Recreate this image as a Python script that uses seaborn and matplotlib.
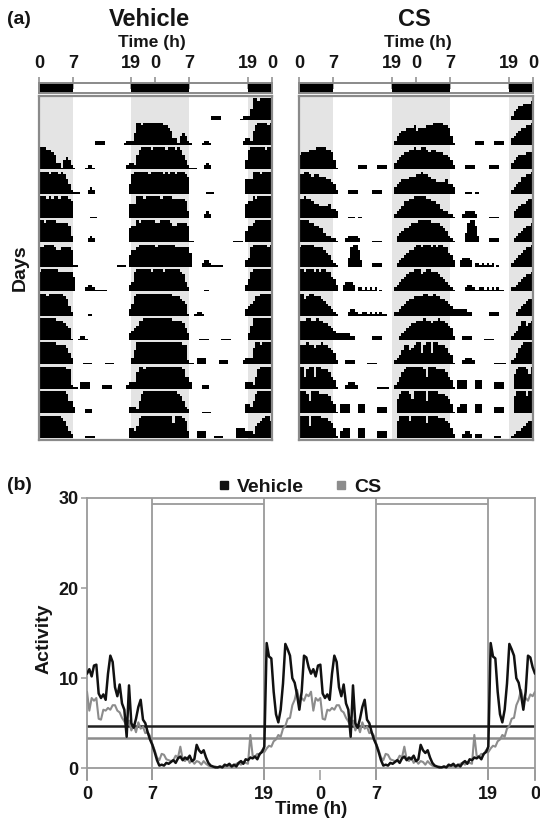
import numpy as np
import pandas as pd
import matplotlib
matplotlib.use("Agg")
import matplotlib.pyplot as plt
from matplotlib.lines import Line2D
import seaborn as sns

sns.set_theme(style="white")
plt.rcParams["font.family"] = ["Liberation Sans", "DejaVu Sans"]
plt.rcParams["font.weight"] = "bold"

# ---------------- data ----------------
tick_hours_a = [0, 7, 19, 24, 31, 43, 48]
tick_hours_b = [0, 7, 19, 25, 31, 43, 48]
tick_labels = ["0", "7", "19", "0", "7", "19", "0"]
dark_starts = [0, 19, 43]
dark_ends = [7, 31, 48]
light_starts = [7, 31]
light_ends = [19, 43]

# actogram: one string per day, 48 half-hour bins, activity level 0-9
vehicle_days = [
    "00000000 00000000 00000002 22200000 00012225 99899999",
    "99988763 31454210 00012210 00000000 00002332 68999989",
    "99998999 89864211 10002320 00000000 00000489 99999899",
    "99989899 89998700 00000111 00000000 00000666 99989999",
    "99899998 88887300 00002320 00000000 00000677 98999999",
    "88999987 78888711 00000000 00000000 11110577 89999999",
    "89999999 88888860 00023321 11110000 00000348 99999989",
    "99989999 99874200 00001100 00000000 00000358 99999999",
    "99999998 88765100 12210000 00000000 00000345 68899999",
    "99999998 88875300 00111100 00011110 00000036 99999999",
    "99999999 99988211 03333000 00222200 00002333 79989999",
    "99999999 99985530 00022200 00000000 00000333 25899999",
    "99999999 98753200 00011110 00000000 00000443 58999999",
    "99999996 99987300 03333000 11110000 04444333 25678997",
]
cs_days = [
    "00000000 00000000 00000000 00000000 00000002 45667778",
    "67778889 99988741 00000000 22220000 22220003 45677889",
    "88998788 77766542 00002222 00000022 22000003 45666777",
    "88988766 55556443 00001110 11000000 00000002 34577889",
    "99998877 66433221 00023333 20000011 11000000 34566788",
    "89999988 88765321 00004899 73000022 22000000 23456778",
    "99899989 89988653 00344430 22121212 01000002 34567889",
    "99789988 87654321 00002332 11221212 12110002 23456778",
    "88899889 88776543 33333220 00000022 22000000 02345677",
    "88898878 89887652 00022220 00001111 00000002 34688678",
    "99589959 98887541 00023332 00000000 11111002 35789999",
    "99985999 88887541 04444000 44400000 33330000 68999869",
    "99995999 98887641 03444000 44400000 33330000 79999799",
    "99996999 98887642 00023320 22200000 11100001 23345677",
]

# mean activity profile, 15-min bins over 24 h
profile_hours = np.arange(0, 24, 0.25)
vehicle_profile = [
    10.5, 11.0, 10.2, 11.4, 11.5, 8.3, 7.8, 8.2, 7.6, 10.5, 12.5, 11.8,
    9.0, 8.0, 9.3, 7.2, 6.5, 3.5, 9.2, 5.0, 4.5, 5.5, 6.8, 7.6,
    5.4, 5.0, 4.0, 3.2, 2.6, 1.8, 0.9, 0.3, 0.4, 0.3, 0.6, 0.5,
    0.7, 0.9, 0.6, 1.1, 1.3, 0.9, 1.2, 1.0, 1.4, 0.8, 1.0, 2.6,
    2.0, 1.7, 2.0, 1.2, 0.6, 0.3, 0.2, 0.1, 0.1, 0.2, 0.1, 0.4,
    0.3, 0.5, 0.2, 0.4, 0.2, 0.6, 0.8, 0.5, 1.0, 0.9, 1.2, 1.1,
    1.3, 1.0, 1.6, 1.8, 2.4, 13.9, 12.4, 12.2, 8.5, 6.0, 5.1, 6.5,
    9.4, 13.8, 13.2, 12.5, 10.0, 9.5, 8.2, 6.5, 8.5, 12.5, 12.3, 11.2,
]
cs_profile = [
    8.5, 6.4, 7.8, 7.5, 7.8, 5.5, 5.4, 6.5, 6.4, 6.7, 6.5, 7.0,
    7.0, 6.4, 6.2, 5.6, 5.2, 4.6, 5.3, 4.2, 4.8, 4.0, 5.1, 4.4,
    4.6, 3.9, 4.0, 3.6, 2.7, 2.0, 1.2, 0.9, 1.6, 1.5, 1.0, 0.9,
    0.8, 0.9, 1.4, 1.2, 2.4, 1.0, 0.8, 1.2, 0.6, 0.9, 0.5, 0.8,
    0.7, 0.4, 0.8, 0.5, 0.3, 0.2, 0.1, 0.2, 0.1, 0.2, 0.1, 0.2,
    0.2, 0.3, 0.1, 0.3, 0.5, 0.6, 0.4, 0.7, 0.6, 0.5, 3.7, 1.4,
    1.3, 1.6, 1.5, 2.0, 1.8, 2.2, 2.5, 2.4, 3.0, 3.2, 3.7, 3.5,
    4.4, 4.7, 5.5, 5.6, 7.0, 7.6, 8.7, 7.6, 7.8, 7.5, 8.2, 8.0,
]
vehicle_level = 4.7
cs_level = 3.4
series_names = ["Vehicle", "CS"]

# ---------------- layout ----------------
W, H = 540, 819
fig = plt.figure(figsize=(W / 100, H / 100), dpi=100)


def rect(x0, y0, x1, y1):
    return [x0 / W, 1 - y1 / H, (x1 - x0) / W, (y1 - y0) / H]


FRAME = "#8a8a8a"
SHADE = "#e4e4e4"
GRID = "#9a9a9a"
TXT = "#151515"


def day_levels(s):
    return np.array([int(c) for c in s.replace(" ", "")], dtype=float)


def draw_actogram(ax, days):
    n = len(days)
    ax.set_xlim(0, 48)
    ax.set_ylim(n + 0.1, 0)
    for s, e in zip(dark_starts, dark_ends):
        ax.axvspan(s, e, color=SHADE, lw=0, zorder=0)
    levels = [day_levels(d) for d in days]
    edges = np.arange(97) * 0.5
    for r in range(1, n + 1):
        left = levels[r - 2] if r >= 2 else np.zeros(48)
        right = levels[r - 1]
        lv = np.concatenate([left, right])
        h = np.where(lv > 0, 0.06 + (lv - 1) / 8.0 * 0.84, 0.0)
        h = np.append(h, h[-1])
        ax.fill_between(edges, r, r - h, step="post", color="black", lw=0, zorder=2)
    ax.set_xticks([])
    ax.set_yticks([])
    for sp in ax.spines.values():
        sp.set_color(FRAME)
        sp.set_linewidth(1.6)
        sp.set_visible(True)


def draw_ldbar(ax):
    ax.set_xlim(0, 48)
    ax.set_ylim(0, 1)
    ax.barh([0.5] * len(dark_starts), np.array(dark_ends) - np.array(dark_starts),
            left=dark_starts, height=1, color="black", lw=0)
    ax.set_yticks([])
    ax.xaxis.tick_top()
    ax.set_xticks(tick_hours_a)
    ax.set_xticklabels(tick_labels)
    ax.tick_params(axis="x", top=True, bottom=False, labeltop=True, labelbottom=False,
                   direction="inout", length=8, width=1.1, color=FRAME, pad=4,
                   labelsize=13, labelcolor=TXT)
    for lab in ax.get_xticklabels():
        lab.set_fontweight("bold")
    for sp in ax.spines.values():
        sp.set_color(FRAME)
        sp.set_linewidth(1.4)
        sp.set_visible(True)


ax_v = fig.add_axes(rect(39, 96, 272, 440))
ax_c = fig.add_axes(rect(299, 96, 533, 440))
draw_actogram(ax_v, vehicle_days)
draw_actogram(ax_c, cs_days)
ax_vb = fig.add_axes(rect(39, 83, 272, 93))
ax_cb = fig.add_axes(rect(299, 83, 533, 93))
draw_ldbar(ax_vb)
draw_ldbar(ax_cb)

fig.text(7 / W, 1 - 20 / H, "(a)", fontsize=14, fontweight="bold", ha="left", va="center", color=TXT)
fig.text(149 / W, 1 - 20 / H, "Vehicle", fontsize=17, fontweight="bold", ha="center", va="center", color=TXT)
fig.text(414 / W, 1 - 20 / H, "CS", fontsize=17, fontweight="bold", ha="center", va="center", color=TXT)
fig.text(152 / W, 1 - 43 / H, "Time (h)", fontsize=12.5, fontweight="bold", ha="center", va="center", color=TXT)
fig.text(418 / W, 1 - 43 / H, "Time (h)", fontsize=12.5, fontweight="bold", ha="center", va="center", color=TXT)
fig.text(20 / W, 1 - 268 / H, "Days", fontsize=14, fontweight="bold", ha="center", va="center",
         rotation=90, color=TXT)

# ---------------- panel (b) ----------------
ax_p = fig.add_axes(rect(87, 498, 535, 780))
hours48 = np.concatenate([profile_hours, profile_hours + 24, [48.0]])
veh = np.array(vehicle_profile)
cs = np.array(cs_profile)
df = pd.DataFrame({
    "hour": np.concatenate([hours48, hours48]),
    "activity": np.concatenate([np.concatenate([veh, veh, veh[:1]]),
                                np.concatenate([cs, cs, cs[:1]])]),
    "group": [series_names[0]] * len(hours48) + [series_names[1]] * len(hours48),
})
ax_p.set_xlim(0, 48)
ax_p.set_ylim(-1.3, 30)
for x in [7, 19, 31, 43]:
    ax_p.axvline(x, color=GRID, lw=1.3, zorder=1)
for s, e in zip(light_starts, light_ends):
    ax_p.hlines(29.3, s, e, color=GRID, lw=1.3, zorder=1)
ax_p.axhline(0, color=GRID, lw=1.3, zorder=1)
ax_p.axhline(cs_level, color="#8c8c8c", lw=1.8, zorder=2)
ax_p.axhline(vehicle_level, color="#202020", lw=1.8, zorder=2)
sns.lineplot(data=df[df.group == "CS"], x="hour", y="activity", color="#8c8c8c",
             lw=1.5, estimator=None, ax=ax_p, zorder=3)
sns.lineplot(data=df[df.group == "Vehicle"], x="hour", y="activity", color="#111111",
             lw=1.8, estimator=None, ax=ax_p, zorder=4)
ax_p.set_xticks(tick_hours_b)
ax_p.set_xticklabels(tick_labels)
ax_p.set_yticks([0, 10, 20, 30])
ax_p.set_yticklabels(["0", "10", "20", "30"])
ax_p.tick_params(axis="x", bottom=True, direction="in", length=7, width=1.1,
                 color=GRID, pad=4, labelsize=13, labelcolor=TXT)
ax_p.tick_params(axis="y", left=True, direction="out", length=4, width=1.1,
                 color=GRID, pad=2, labelsize=13, labelcolor=TXT)
for lab in ax_p.get_xticklabels() + ax_p.get_yticklabels():
    lab.set_fontweight("bold")
ax_p.set_xlabel("Time (h)", fontsize=13.5, fontweight="bold", labelpad=-1, color=TXT)
ax_p.set_ylabel("Activity", fontsize=14, fontweight="bold", labelpad=4, color=TXT)
for name, sp in ax_p.spines.items():
    sp.set_color(GRID)
    sp.set_linewidth(1.3)
    sp.set_visible(name != "bottom")

handles = [Line2D([], [], marker="s", ls="", color="#111111", markersize=6),
           Line2D([], [], marker="s", ls="", color="#8c8c8c", markersize=6)]
leg = ax_p.legend(handles, series_names, ncol=2, loc="center",
                  bbox_to_anchor=(0.475, 1.04), frameon=False, handlelength=0.6,
                  handletextpad=0.4, columnspacing=1.6, borderaxespad=0,
                  prop={"weight": "bold", "size": 14})
for t in leg.get_texts():
    t.set_color(TXT)
fig.text(7 / W, 1 - 485 / H, "(b)", fontsize=14, fontweight="bold", ha="left", va="center", color=TXT)

fig.savefig("out.png", dpi=100, facecolor="white")
